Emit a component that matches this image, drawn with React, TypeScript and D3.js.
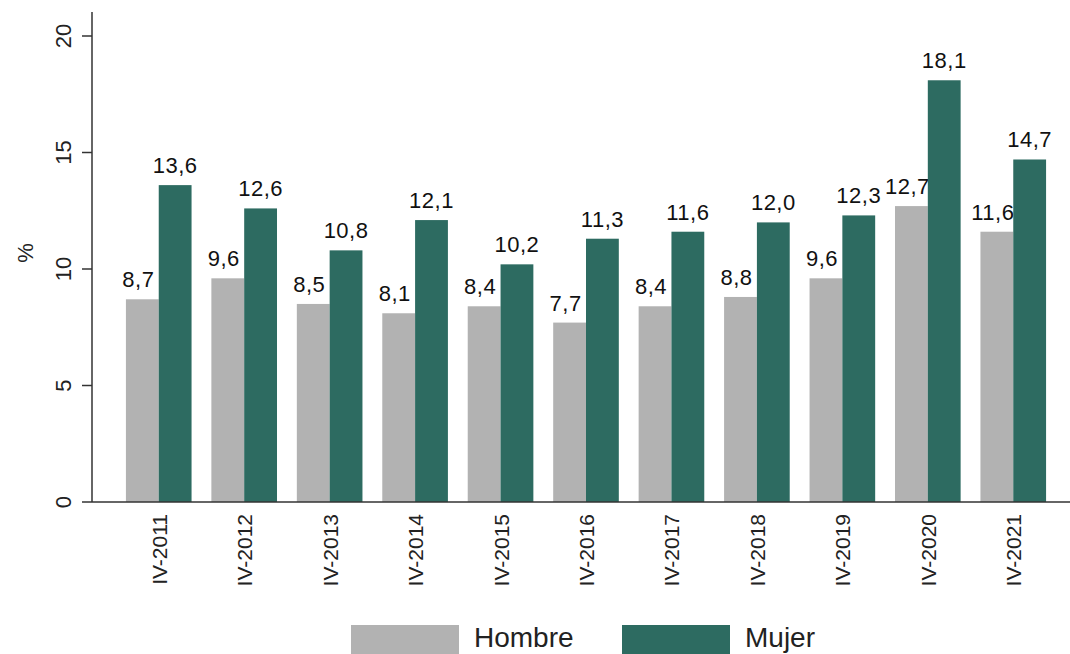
import React from "react";
import * as d3 from "d3";

const categories = ["IV-2011","IV-2012","IV-2013","IV-2014","IV-2015","IV-2016","IV-2017","IV-2018","IV-2019","IV-2020","IV-2021"];
const hombre = [8.7, 9.6, 8.5, 8.1, 8.4, 7.7, 8.4, 8.8, 9.6, 12.7, 11.6];
const mujer = [13.6, 12.6, 10.8, 12.1, 10.2, 11.3, 11.6, 12.0, 12.3, 18.1, 14.7];
const yTicks = [0, 5, 10, 15, 20];
const seriesNames = ["Hombre", "Mujer"];
const colors = ["#b2b2b2", "#2d6b61"];

const W = 1070, H = 654;
const FONT = "'Liberation Sans', Arial, sans-serif";

export default function App() {
  const x0 = d3.scaleBand<string>().domain(categories).range([92, 1080]).paddingInner(0.232).paddingOuter(0.397);
  const x1 = d3.scaleBand<string>().domain(seriesNames).range([0, x0.bandwidth()]);
  const y = d3.scaleLinear().domain([0, 20]).range([502, 36]);
  const fmt = (v: number) => v.toFixed(1).replace(".", ",");
  const series = [hombre, mujer];

  return (
    <svg width={W} height={H} style={{ position: "absolute", left: 0, top: 0, background: "#fff" }} fontFamily={FONT}>
      <rect x={0} y={0} width={W} height={H} fill="#fff" />
      {categories.map((c, i) =>
        series.map((s, k) => {
          const bx = (x0(c) as number) + (x1(seriesNames[k]) as number);
          const bw = x1.bandwidth();
          return (
            <g key={c + k}>
              <rect x={bx} y={y(s[i])} width={bw} height={y(0) - y(s[i])} fill={colors[k]} />
              <text x={bx + bw / 2 + (k === 0 ? -4 : 0)} y={y(s[i]) - 12} textAnchor="middle" fontSize={22} fill="#111" letterSpacing={0.5}>{fmt(s[i])}</text>
            </g>
          );
        })
      )}
      {/* y axis */}
      <line x1={92} x2={92} y1={12} y2={502} stroke="#333" strokeWidth={1.5} />
      {yTicks.map(t => (
        <g key={t}>
          <line x1={82} x2={92} y1={y(t)} y2={y(t)} stroke="#333" strokeWidth={1.5} />
          <text transform={`translate(71,${y(t)}) rotate(-90)`} textAnchor="middle" fontSize={22} fill="#222">{t}</text>
        </g>
      ))}
      <text transform={`translate(33,253) rotate(-90)`} textAnchor="middle" fontSize={22} fill="#222">%</text>
      {/* x axis */}
      <line x1={92} x2={1070} y1={502} y2={502} stroke="#333" strokeWidth={1.5} />
      {categories.map(c => {
        const cx = (x0(c) as number) + x0.bandwidth() / 2;
        return (
          <text key={c} transform={`translate(${cx + 8},514) rotate(-90)`} textAnchor="end" fontSize={21} fill="#222">{c}</text>
        );
      })}
      {/* legend */}
      {seriesNames.map((n, k) => {
        const lx = [351, 622][k];
        return (
          <g key={n}>
            <rect x={lx} y={625} width={108} height={29} fill={colors[k]} />
            <text x={lx + 123} y={647} fontSize={28} fill="#222">{n}</text>
          </g>
        );
      })}
    </svg>
  );
}
